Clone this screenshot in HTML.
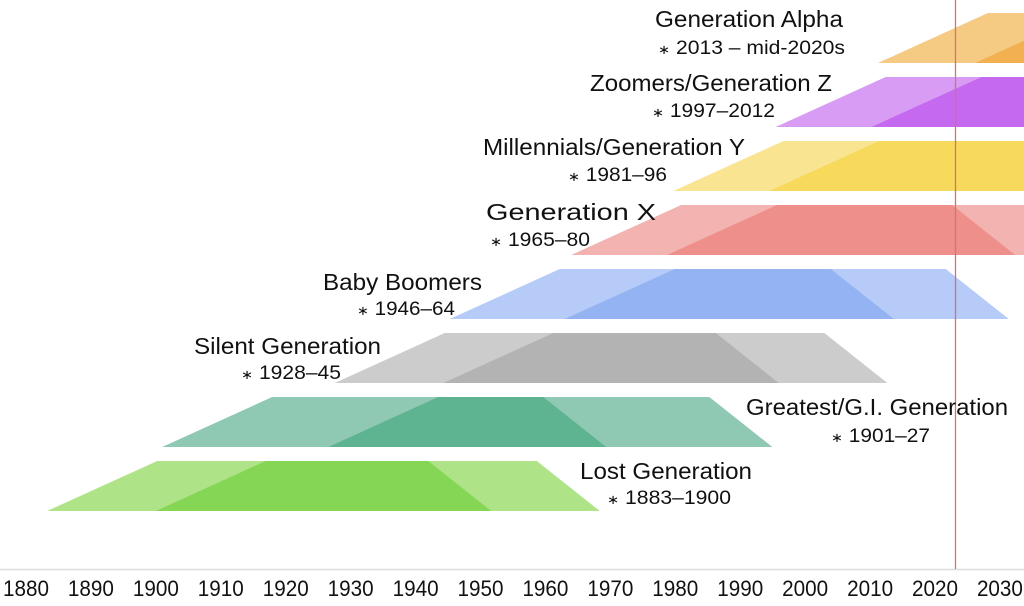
<!DOCTYPE html>
<html><head><meta charset="utf-8"><style>
html,body{margin:0;padding:0;background:#fff;}
svg{display:block;}
.t{font-family:"Liberation Sans",sans-serif;font-size:23px;fill:#111;}
.s{font-family:"Liberation Sans",sans-serif;font-size:19px;fill:#111;}
.a{font-family:"Liberation Sans Narrow","Liberation Sans",sans-serif;font-size:22px;fill:#111;}
</style></head><body>
<svg width="1024" height="606" viewBox="0 0 1024 606" xmlns="http://www.w3.org/2000/svg">
<g id="bars"></g>
<line x1="0" y1="569.5" x2="1024" y2="569.5" stroke="#dddddd" stroke-width="1.5"/>
<line x1="955.5" y1="0" x2="955.5" y2="569" stroke="#d9706e" stroke-width="1.3"/>
<g id="axis"></g>

<text class="t" x="655" y="27" textLength="188" lengthAdjust="spacingAndGlyphs">Generation Alpha</text>
<text class="s" x="658" y="54" textLength="187" lengthAdjust="spacingAndGlyphs"><tspan font-size="13">∗</tspan> 2013 – mid-2020s</text>
<text class="t" x="590" y="91" textLength="242" lengthAdjust="spacingAndGlyphs">Zoomers/Generation Z</text>
<text class="s" x="652" y="117" textLength="123" lengthAdjust="spacingAndGlyphs"><tspan font-size="13">∗</tspan> 1997–2012</text>
<text class="t" x="483" y="155" textLength="262" lengthAdjust="spacingAndGlyphs">Millennials/Generation Y</text>
<text class="s" x="568" y="181" textLength="99" lengthAdjust="spacingAndGlyphs"><tspan font-size="13">∗</tspan> 1981–96</text>
<text class="t" x="486" y="220" textLength="170" lengthAdjust="spacingAndGlyphs">Generation X</text>
<text class="s" x="490" y="246" textLength="100" lengthAdjust="spacingAndGlyphs"><tspan font-size="13">∗</tspan> 1965–80</text>
<text class="t" x="323" y="290" textLength="159" lengthAdjust="spacingAndGlyphs">Baby Boomers</text>
<text class="s" x="357" y="315" textLength="98" lengthAdjust="spacingAndGlyphs"><tspan font-size="13">∗</tspan> 1946–64</text>
<text class="t" x="194" y="354" textLength="187" lengthAdjust="spacingAndGlyphs">Silent Generation</text>
<text class="s" x="241" y="379" textLength="100" lengthAdjust="spacingAndGlyphs"><tspan font-size="13">∗</tspan> 1928–45</text>
<text class="t" x="746" y="415" textLength="262" lengthAdjust="spacingAndGlyphs">Greatest/G.I. Generation</text>
<text class="s" x="831" y="442" textLength="99" lengthAdjust="spacingAndGlyphs"><tspan font-size="13">∗</tspan> 1901–27</text>
<text class="t" x="580" y="479" textLength="172" lengthAdjust="spacingAndGlyphs">Lost Generation</text>
<text class="s" x="607" y="504" textLength="124" lengthAdjust="spacingAndGlyphs"><tspan font-size="13">∗</tspan> 1883–1900</text>
</svg>
<script>
(function(){
var NS="http://www.w3.org/2000/svg";
function X(y){return 28+(y-1880)*6.39;}
var gens=[
 [1883,1900,461,"#aee388","#84d654"],
 [1901,1927,397,"#8fc9b4","#5eb390"],
 [1928,1945,333,"#cccccc","#b3b3b3"],
 [1946,1964,269,"#b6cbf7","#93b3f2"],
 [1965,1980,205,"#f2b3b1","#ef8f8b"],
 [1981,1996,141,"#f9e591","#f7d95b"],
 [1997,2012,77,"#d89cf4","#c56af0"],
 [2013,2028.2,13,"#f5ca83","#f2b050"]
];
var g=document.getElementById("bars");
function poly(pts,c){var p=document.createElementNS(NS,"polygon");p.setAttribute("points",pts.map(function(a){return a.join(",");}).join(" "));p.setAttribute("fill",c);g.appendChild(p);}
gens.forEach(function(d){
 var s=X(d[0]),e=X(d[1]),t=d[2],b=d[2]+50;
 poly([[s,b],[s+110,t],[e+381,t],[e+444,b]],d[3]);
 poly([[e,b],[e+110,t],[s+381,t],[s+444,b]],d[4]);
});
var ax=document.getElementById("axis");
for(var i=0;i<16;i++){var tx=document.createElementNS(NS,"text");tx.setAttribute("class","a");tx.setAttribute("x",26+i*64.93-23);tx.setAttribute("y",596);tx.setAttribute("textLength","46");tx.setAttribute("lengthAdjust","spacingAndGlyphs");tx.textContent=1880+i*10;ax.appendChild(tx);}
})();
</script>
</body></html>
